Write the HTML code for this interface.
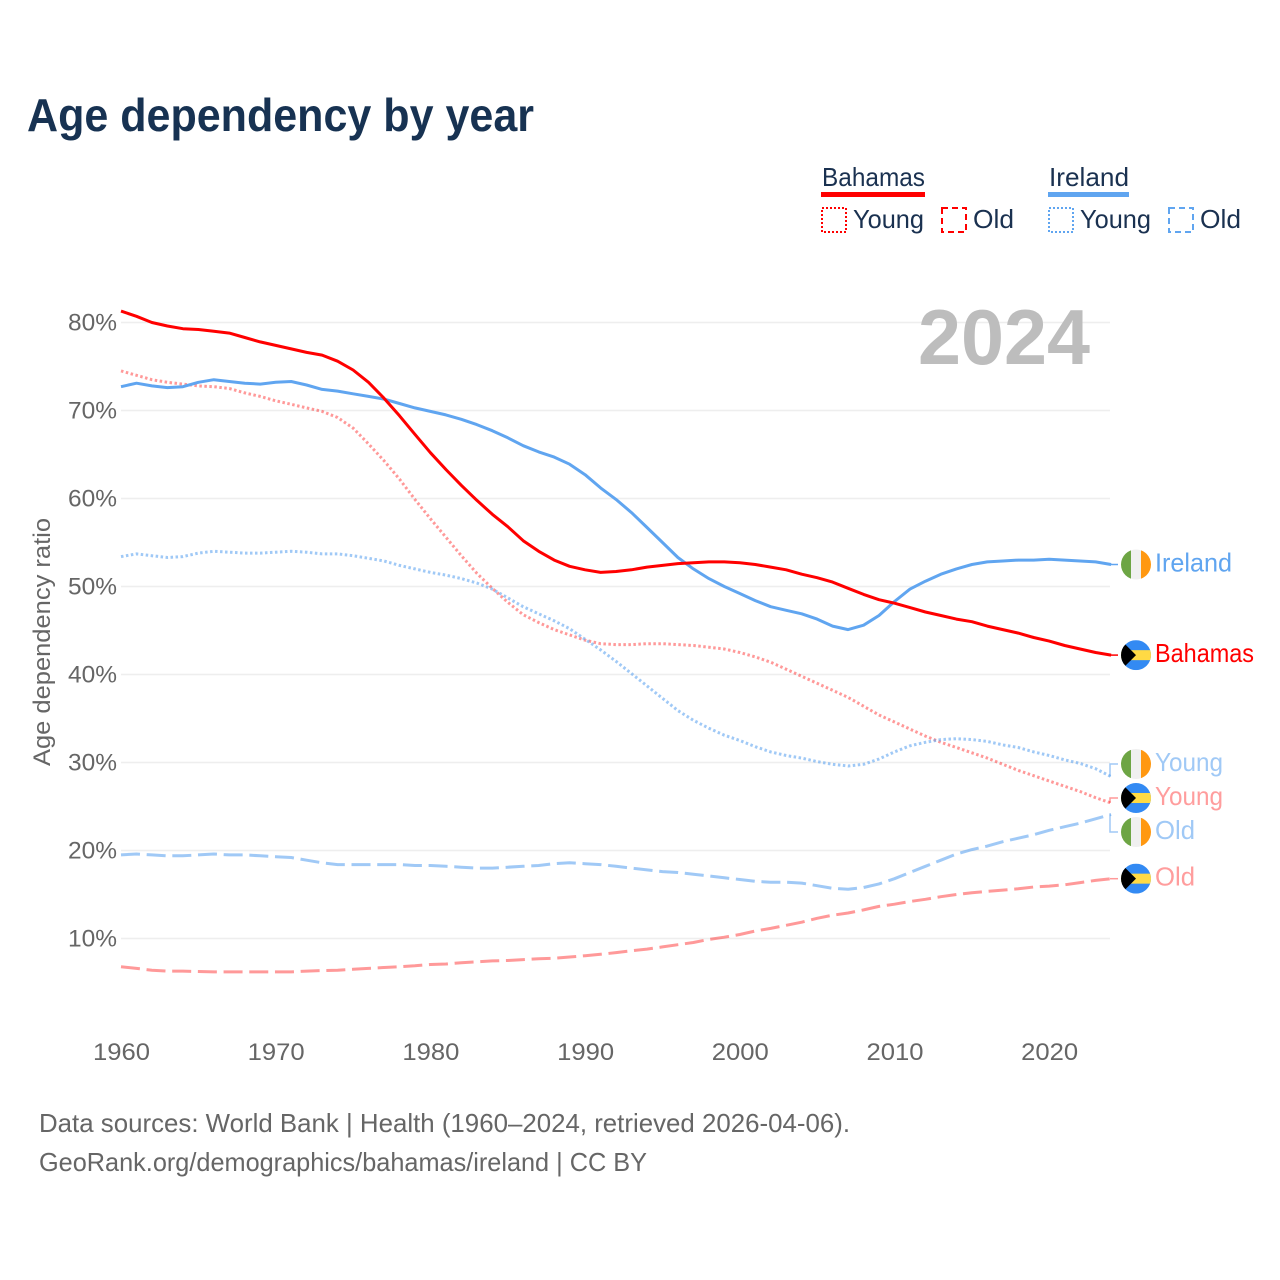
<!DOCTYPE html>
<html lang="en">
<head>
<meta charset="utf-8">
<title>Age dependency by year</title>
<style>
  html,body{margin:0;padding:0;background:#fff;}
  svg{display:block;font-family:"Liberation Sans",sans-serif;}
</style>
</head>
<body>
<svg id="chart" xmlns="http://www.w3.org/2000/svg" width="1280" height="1280" viewBox="0 0 1280 1280">
  <rect x="0" y="0" width="1280" height="1280" fill="#fff"/>
  <text x="27" y="131" font-size="46" font-weight="bold" fill="#173252" textLength="507" lengthAdjust="spacingAndGlyphs">Age dependency by year</text>

  <g font-size="26" fill="#1a3150">
    <text x="822" y="186" textLength="103" lengthAdjust="spacingAndGlyphs">Bahamas</text>
    <rect x="821" y="192" width="104" height="5" fill="#ff0000"/>
    <rect x="822" y="208" width="24" height="24" fill="none" stroke="#ff0000" stroke-width="2" stroke-dasharray="2 2"/>
    <text x="853" y="228" textLength="71" lengthAdjust="spacingAndGlyphs">Young</text>
    <rect x="942" y="208" width="24" height="24" fill="none" stroke="#ff0000" stroke-width="2" stroke-dasharray="6 4"/>
    <text x="973" y="228" textLength="41" lengthAdjust="spacingAndGlyphs">Old</text>
    <text x="1049" y="186" textLength="80" lengthAdjust="spacingAndGlyphs">Ireland</text>
    <rect x="1048" y="192" width="81" height="5" fill="#60a5f0"/>
    <rect x="1049" y="208" width="24" height="24" fill="none" stroke="#60a5f0" stroke-width="2" stroke-dasharray="2 2"/>
    <text x="1080" y="228" textLength="71" lengthAdjust="spacingAndGlyphs">Young</text>
    <rect x="1169" y="208" width="24" height="24" fill="none" stroke="#60a5f0" stroke-width="2" stroke-dasharray="6 4"/>
    <text x="1200" y="228" textLength="41" lengthAdjust="spacingAndGlyphs">Old</text>
  </g>

  <g id="grid"></g>
  <text x="918" y="364" font-size="78" font-weight="bold" fill="#bdbdbd" textLength="172" lengthAdjust="spacingAndGlyphs">2024</text>
  <g id="yticks" font-size="24" fill="#666" text-anchor="end"></g>
  <g id="xticks" font-size="24" fill="#666" text-anchor="middle"></g>
  <text transform="translate(50,642) rotate(-90)" font-size="24" fill="#666" text-anchor="middle" textLength="248" lengthAdjust="spacingAndGlyphs">Age dependency ratio</text>
  <g id="series" fill="none"></g>
  <g id="labels" font-size="26"></g>
  <defs id="defs"></defs>

  <g font-size="26" fill="#666">
    <text x="39" y="1132" textLength="811" lengthAdjust="spacingAndGlyphs">Data sources: World Bank | Health (1960–2024, retrieved 2026-04-06).</text>
    <text x="39" y="1171" textLength="608" lengthAdjust="spacingAndGlyphs">GeoRank.org/demographics/bahamas/ireland | CC BY</text>
  </g>
</svg>
<script>
const firstYear = 1960;
const xTickLabels = [1960, 1970, 1980, 1990, 2000, 2010, 2020];
const yTickLabels = [10, 20, 30, 40, 50, 60, 70, 80];

const bahamasTotal = [
  81.3,80.7,80.0,79.6,79.3,79.2,79.0,78.8,78.3,77.8,
  77.4,77.0,76.6,76.3,75.6,74.6,73.2,71.4,69.4,67.3,
  65.2,63.3,61.5,59.8,58.2,56.8,55.2,54.0,53.0,52.3,
  51.9,51.6,51.7,51.9,52.2,52.4,52.6,52.7,52.8,52.8,
  52.7,52.5,52.2,51.9,51.4,51.0,50.5,49.8,49.1,48.5,
  48.1,47.6,47.1,46.7,46.3,46.0,45.5,45.1,44.7,44.2,
  43.8,43.3,42.9,42.5,42.2];
const irelandTotal = [
  72.7,73.1,72.8,72.6,72.7,73.2,73.5,73.3,73.1,73.0,
  73.2,73.3,72.9,72.4,72.2,71.9,71.6,71.3,70.8,70.3,
  69.9,69.5,69.0,68.4,67.7,66.9,66.0,65.3,64.7,63.9,
  62.7,61.2,59.9,58.4,56.7,55.0,53.3,52.0,50.9,50.0,
  49.2,48.4,47.7,47.3,46.9,46.3,45.5,45.1,45.6,46.7,
  48.3,49.7,50.6,51.4,52.0,52.5,52.8,52.9,53.0,53.0,
  53.1,53.0,52.9,52.8,52.5];
const bahamasYoung = [
  74.5,74.0,73.5,73.2,73.0,72.8,72.7,72.5,72.0,71.6,
  71.1,70.7,70.3,69.9,69.2,68.0,66.2,64.3,62.2,59.9,
  57.7,55.6,53.5,51.5,49.8,48.2,46.8,45.9,45.1,44.5,
  43.9,43.5,43.4,43.4,43.5,43.5,43.4,43.3,43.1,42.9,
  42.5,42.0,41.4,40.6,39.8,39.0,38.2,37.4,36.4,35.4,
  34.6,33.8,33.0,32.3,31.7,31.1,30.5,29.8,29.1,28.5,
  27.9,27.3,26.7,26.0,25.4];
const irelandYoung = [
  53.4,53.7,53.5,53.3,53.4,53.8,54.0,53.9,53.8,53.8,
  53.9,54.0,53.9,53.7,53.7,53.5,53.2,52.9,52.4,52.0,
  51.6,51.3,50.9,50.4,49.7,48.7,47.7,46.9,46.1,45.2,
  44.0,42.8,41.5,40.1,38.7,37.3,35.9,34.8,33.9,33.1,
  32.5,31.8,31.2,30.8,30.5,30.1,29.8,29.6,29.8,30.4,
  31.2,31.9,32.3,32.6,32.7,32.6,32.4,32.0,31.7,31.2,
  30.8,30.3,29.9,29.3,28.4];
const irelandOld = [
  19.5,19.6,19.5,19.4,19.4,19.5,19.6,19.5,19.5,19.4,
  19.3,19.2,18.9,18.6,18.4,18.4,18.4,18.4,18.4,18.3,
  18.3,18.2,18.1,18.0,18.0,18.1,18.2,18.3,18.5,18.6,
  18.5,18.4,18.2,18.0,17.8,17.6,17.5,17.3,17.1,16.9,
  16.7,16.5,16.4,16.4,16.3,16.0,15.7,15.6,15.8,16.2,
  16.8,17.5,18.2,18.9,19.6,20.1,20.5,21.0,21.4,21.8,
  22.3,22.7,23.1,23.6,24.1];
const bahamasOld = [
  6.8,6.6,6.4,6.3,6.3,6.25,6.2,6.2,6.2,6.2,
  6.2,6.2,6.3,6.35,6.4,6.5,6.6,6.7,6.8,6.9,
  7.05,7.1,7.25,7.35,7.45,7.5,7.6,7.7,7.75,7.9,
  8.05,8.2,8.4,8.6,8.8,9.05,9.3,9.55,9.9,10.15,
  10.45,10.85,11.15,11.5,11.85,12.3,12.65,12.9,13.25,13.65,
  13.9,14.2,14.45,14.75,15.0,15.2,15.35,15.5,15.65,15.85,
  15.95,16.1,16.35,16.6,16.8];

const NS = 'http://www.w3.org/2000/svg';
const RED = '#ff0000', BLUE = '#60a5f0';
function xScale(year){ return 121 + (year - firstYear) * 15.47; }
function yScale(v){ return 1026.5 - 8.8 * v; }
function make(tag, parent, attrs, text){
  const el = document.createElementNS(NS, tag);
  for (const k in attrs) el.setAttribute(k, attrs[k]);
  if (text !== undefined) el.textContent = text;
  parent.appendChild(el);
  return el;
}
const textWidths = {'Ireland':77,'Bahamas':99,'Young':68,'Old':40};

const gridG = document.getElementById('grid');
const yG = document.getElementById('yticks');
yTickLabels.forEach(function(t){
  const line = make('line', gridG, {x1:121, x2:1110, y1:yScale(t), y2:yScale(t), stroke:'#eeeeee', 'stroke-width':1.5});
  
  
  const label = make('text', yG, {x:117, y:yScale(t)+8, textLength:49, lengthAdjust:'spacingAndGlyphs'}, t + '%');
  
  
});
const xG = document.getElementById('xticks');
xTickLabels.forEach(function(t){
  const label = make('text', xG, {x:xScale(t)+0.5, y:1060, textLength:57, lengthAdjust:'spacingAndGlyphs'}, String(t));
  
  
});

const seriesList = [
  {id:'bahamas-old',   values:bahamasOld,   color:RED,  opacity:0.4, dash:'19 6.7',  label:'Old',     flag:'bahamas'},
  {id:'ireland-old',   values:irelandOld,   color:BLUE, opacity:0.6, dash:'19 6.7',  label:'Old',     flag:'ireland'},
  {id:'bahamas-young', values:bahamasYoung, color:RED,  opacity:0.4, dash:'2.5 2.5', label:'Young', flag:'bahamas'},
  {id:'ireland-young', values:irelandYoung, color:BLUE, opacity:0.6, dash:'2.5 2.5', label:'Young', flag:'ireland'},
  {id:'ireland-total', values:irelandTotal, color:BLUE, opacity:1,   dash:'',      label:'Ireland', flag:'ireland'},
  {id:'bahamas-total', values:bahamasTotal, color:RED,  opacity:1,   dash:'',      label:'Bahamas', flag:'bahamas'}
];

const seriesG = document.getElementById('series');
seriesList.forEach(function(s){
  const pts = s.values.map(function(v, i){ return xScale(firstYear + i).toFixed(1) + ',' + yScale(v).toFixed(1); }).join(' ');
  const attrs = {points:pts, stroke:s.color, 'stroke-opacity':s.opacity, 'stroke-width':3, 'stroke-linejoin':'round'};
  if (s.dash) attrs['stroke-dasharray'] = s.dash;
  const line = make('polyline', seriesG, attrs);
  
  
});

/* Dodge end labels: overlapping labels are merged into evenly spaced clusters. */
const GAP = 34;
const ends = seriesList.map(function(s){
  return {s:s, end:yScale(s.values[s.values.length-1])};
}).sort(function(a,b){ return a.end - b.end; });
let clusters = ends.map(function(e){ return {items:[e], c:e.end}; });
let merged = true;
while (merged) {
  merged = false;
  for (let i = 0; i < clusters.length - 1; i++) {
    const a = clusters[i], b = clusters[i+1];
    const aBottom = a.c + (a.items.length-1)*GAP/2;
    const bTop = b.c - (b.items.length-1)*GAP/2;
    if (bTop - aBottom < GAP) {
      const items = a.items.concat(b.items);
      const c = items.reduce(function(t,e){ return t + e.end; }, 0) / items.length;
      clusters.splice(i, 2, {items:items, c:c});
      merged = true;
      break;
    }
  }
}
clusters.forEach(function(cl){
  cl.items.forEach(function(e, i){
    e.y = cl.c + (i - (cl.items.length-1)/2) * GAP;
  });
});

const defs = document.getElementById('defs');
const labelsG = document.getElementById('labels');
ends.forEach(function(e, idx){
  const s = e.s, cx = 1136, fy = e.y;
  const conn = make('path', labelsG, {d:'M1110 ' + e.end.toFixed(1) + ' V' + fy.toFixed(1) + ' H1118', fill:'none', stroke:s.color, 'stroke-opacity':s.opacity, 'stroke-width':1.5});
  
  

  const clip = make('clipPath', defs, {id:'clip-' + idx});
  make('circle', clip, {cx:cx, cy:fy, r:15});
  const flag = make('g', labelsG, {'clip-path':'url(#clip-' + idx + ')'});
  
  
  if (s.flag === 'ireland') {
    make('rect', flag, {x:cx-15, y:fy-15, width:10, height:30, fill:'#6da544'});
    make('rect', flag, {x:cx-5, y:fy-15, width:10, height:30, fill:'#f0f0f0'});
    make('rect', flag, {x:cx+5, y:fy-15, width:10, height:30, fill:'#ff9811'});
  } else {
    make('rect', flag, {x:cx-15, y:fy-15, width:30, height:30, fill:'#338af3'});
    make('rect', flag, {x:cx-15, y:fy-5, width:30, height:10, fill:'#ffda44'});
    make('polygon', flag, {points:(cx-15)+','+(fy-15)+' '+cx+','+fy+' '+(cx-15)+','+(fy+15), fill:'#000'});
  }

  const fill = s.opacity === 1 ? s.color : (s.color === RED ? '#ff9d9d' : '#a0c9f6');
  const label = make('text', labelsG, {x:1155, y:fy+7, fill:fill, textLength:textWidths[s.label], lengthAdjust:'spacingAndGlyphs'}, s.label);
  
  
});
</script>
</body>
</html>
